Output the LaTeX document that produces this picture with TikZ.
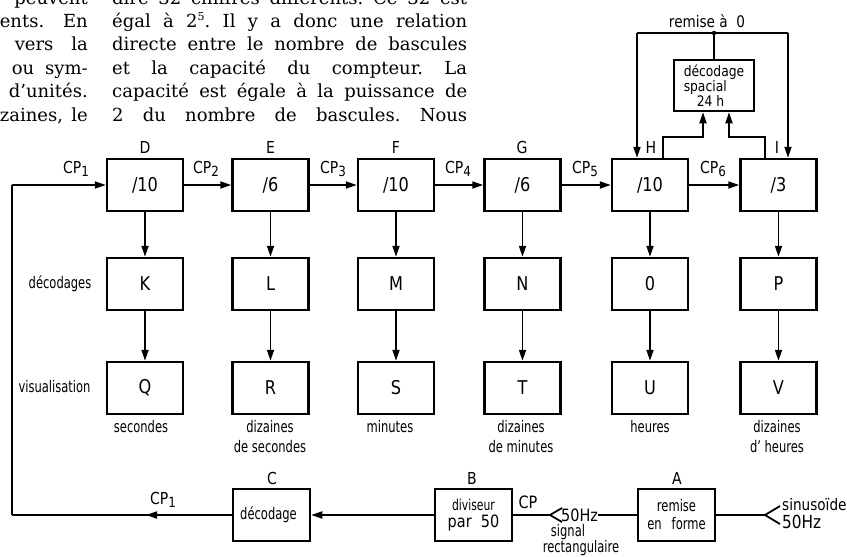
\documentclass[tikz,border=0pt]{standalone}
\usepackage{fontspec}
\newfontfamily\para{DejaVu Serif}
\newfontfamily\dfa[FakeStretch=0.85]{DejaVu Sans}
\newfontfamily\dfb[FakeStretch=0.72]{DejaVu Sans}
\usetikzlibrary{arrows.meta,decorations.markings}
\newcommand\fsz[2]{\fontsize{#1}{#2}\selectfont}
\newcommand\cpx[1]{CP\raisebox{-3.5pt}{\fsz{14}{14}#1}}
\frenchspacing
\begin{document}
\begin{tikzpicture}[x=1pt,y=-1pt,
  box/.style={draw, line width=2.5pt, minimum width=76pt, minimum height=52pt, inner sep=0pt, font=\dfa\fsz{19}{19}},
  lbl/.style={font=\dfa\fsz{16.5}{16.5}, inner sep=0pt},
  small/.style={font=\dfb\fsz{16}{20}, inner sep=0pt, align=center},
  ptext/.style={font=\para\fsz{18}{20}, inner sep=0pt},
  tip/.tip={Triangle[length=11pt,width=7pt]},
  conn/.style={line width=1.8pt, -tip},
  wire/.style={line width=1.8pt},
  midarrow/.style={postaction={decorate}, decoration={markings, mark=at position 0.39 with {\arrow{tip}}}}
]
\useasboundingbox (0,0) rectangle (847,557);
\clip (0,0) rectangle (847,557);
% --- text fragment
\node[ptext, anchor=base east] (l1) at (88,4) {peuvent};
\node[ptext, anchor=base east] (l2) at (88,27.4) {\makebox[88pt][s]{ents. En}};
\node[ptext, anchor=base east] (l3) at (88,50.8) {\makebox[73pt][s]{vers la}};
\node[ptext, anchor=base east] (l4) at (88,74.2) {\makebox[76pt][s]{ou sym-}};
\node[ptext, anchor=base east] (l5) at (88,97.6) {d’unités.};
\node[ptext, anchor=base east] (l6) at (88,121) {\makebox[88pt][s]{zaines, le}};
\node[ptext, anchor=base west] (r1) at (112,4) {\makebox[355pt][s]{dire 32 chiffres différents. Ce 32 est}};
\node[ptext, anchor=base west] (r2) at (112,27.4) {\makebox[355pt][s]{égal à 2\raisebox{0.75ex}{\fsz{11}{11}5}. Il y a donc une relation}};
\node[ptext, anchor=base west] (r3) at (112,50.8) {\makebox[355pt][s]{directe entre le nombre de bascules}};
\node[ptext, anchor=base west] (r4) at (112,74.2) {\makebox[355pt][s]{et la capacité du compteur. La}};
\node[ptext, anchor=base west] (r5) at (112,97.6) {\makebox[355pt][s]{capacité est égale à la puissance de}};
\node[ptext, anchor=base west] (r6) at (112,121) {\makebox[355pt][s]{2 du nombre de bascules. Nous}};
% --- row 1
\node[box] (D) at (145,185) {/10};
\node[box] (E) at (270.5,185) {/6};
\node[box] (F) at (396,185) {/10};
\node[box] (G) at (522.5,185) {/6};
\node[box] (H) at (650,185) {/10};
\node[box] (I) at (778.5,185) {/3};
% --- row 2
\node[box] (K) at (145,284) {K};
\node[box] (L) at (270.5,284) {L};
\node[box] (M) at (396,284) {M};
\node[box] (N) at (522.5,284) {N};
\node[box] (O) at (650,284) {0};
\node[box] (P) at (778.5,284) {P};
% --- row 3
\node[box] (Q) at (145,388) {Q};
\node[box] (R) at (270.5,388) {R};
\node[box] (S) at (396,388) {S};
\node[box] (T) at (522.5,388) {T};
\node[box] (U) at (650,388) {U};
\node[box] (V) at (778.5,388) {V};
% --- labels above row 1
\node[lbl] (lD) at (145,147) {D};
\node[lbl] (lE) at (270.5,147) {E};
\node[lbl] (lF) at (396,147) {F};
\node[lbl] (lG) at (522,147) {G};
\node[lbl] (lH) at (651,147) {H};
\node[lbl] (lI) at (777,147) {I};
% --- CP labels
\node[lbl] (cp1) at (76,169) {\cpx{1}};
\node[lbl] (cp2) at (206,169) {\cpx{2}};
\node[lbl] (cp3) at (333,169) {\cpx{3}};
\node[lbl] (cp4) at (458,169) {\cpx{4}};
\node[lbl] (cp5) at (585,169) {\cpx{5}};
\node[lbl] (cp6) at (713,169) {\cpx{6}};
% --- horizontal chain
\draw[conn] (D.east) -- (E.west);
\draw[conn] (E.east) -- (F.west);
\draw[conn] (F.east) -- (G.west);
\draw[conn] (G.east) -- (H.west);
\draw[conn] (H.east) -- (I.west);
% --- vertical arrows
\foreach \a/\b/\c in {D/K/Q, E/L/R, F/M/S, G/N/T, H/O/U, I/P/V}{
  \draw[conn] (\a.south) -- (\b.north);
  \draw[conn] (\b.south) -- (\c.north);
}
% --- row labels
\node[small] (dec) at (60,284) {décodages};
\node[small] (vis) at (54.5,387) {visualisation};
% --- under labels
\node[small] (u1) at (141,427) {secondes};
\node[small, anchor=north] (u2) at (270,420) {dizaines\\de secondes};
\node[small] (u3) at (390,427) {minutes};
\node[small, anchor=north] (u4) at (521,420) {dizaines\\de minutes};
\node[small] (u5) at (650,427) {heures};
\node[small, anchor=north] (u6) at (777,420) {dizaines\\d’ heures};
% --- top: special decoding
\node[lbl, font=\dfa\fsz{16}{16}] (rz) at (707,21) {remise\ à\ \ 0};
\coordinate (jl) at (637,33);
\coordinate (jm) at (714,33);
\coordinate (jr) at (788,33);
\node[box, minimum width=80pt, minimum height=51pt, align=left, font=\dfa\fsz{14.5}{13.5}] (SD) at (714,85.5) {décodage\\spacial\\\hspace*{13pt}24 h};
\draw[wire] (jl) -- (jr);
\draw[wire] (jm) -- (SD.north);
\fill (jm) circle (2.2pt);
\draw[conn] (jl) -- (jl |- H.north);
\draw[conn] (jr) -- (jr |- I.north);
\draw[conn] ([xshift=13pt]H.north) -- ++(0,-21) -| ([xshift=-11pt]SD.south);
\draw[conn] ([xshift=-13.5pt]I.north) -- ++(0,-21) -| ([xshift=15pt]SD.south);
% --- bottom chain
\node[box, minimum width=77pt, font=\dfb\fsz{16}{16}] (C) at (271.5,515) {\hspace*{-6pt}décodage};
\node[box, minimum width=77pt, align=center, font=\dfb\fsz{15}{17}] (B) at (473.5,515) {diviseur\\{\dfa\fsz{17}{17}par\ \ 50}};
\node[box, minimum width=77pt, align=center, font=\dfb\fsz{16}{18}] (A) at (676.5,515) {remise\\en\hspace{10pt}forme};
\node[lbl] (lC) at (272,478) {C};
\node[lbl] (lB) at (472,478) {B};
\node[lbl] (lA) at (677,478) {A};
\coordinate (lb) at (12,515);
\coordinate (lt) at (12,185);
\draw[wire, midarrow] (C.west) -- (lb);
\draw[wire] (lb) -- (lt);
\draw[conn] (lt) -- (D.west);
\node[lbl] (cpc) at (163,500) {\cpx{1}};
\draw[conn] (B.west) -- (C.east);
% signal
\coordinate (v1) at (550,515);
\draw[wire] (B.east) -- (v1);
\draw[wire] ([shift={(12pt,7pt)}]v1) -- (v1) -- ([shift={(12pt,-7pt)}]v1);
\node[lbl, font=\dfa\fsz{17}{17}, anchor=west] (hz1) at (561,515) {50Hz};
\draw[wire] (hz1.east) -- (A.west);
\node[lbl, font=\dfa\fsz{17}{17}] (cpb) at (528,502) {CP};
\node[small] (sig) at (568,532) {signal};
\node[small] (rect) at (581,548) {rectangulaire};
% sinusoid input
\coordinate (v2) at (765,515);
\draw[wire] (A.east) -- (v2);
\draw[wire] ([shift={(15pt,9pt)}]v2) -- (v2) -- ([shift={(15pt,-9pt)}]v2);
\node[lbl, font=\dfa\fsz{16}{16}, anchor=west] (sin) at (782,505) {sinusoïde};
\node[lbl, font=\dfa\fsz{18}{18}, anchor=west] (hz2) at (782,522) {50Hz};
\end{tikzpicture}
\end{document}
